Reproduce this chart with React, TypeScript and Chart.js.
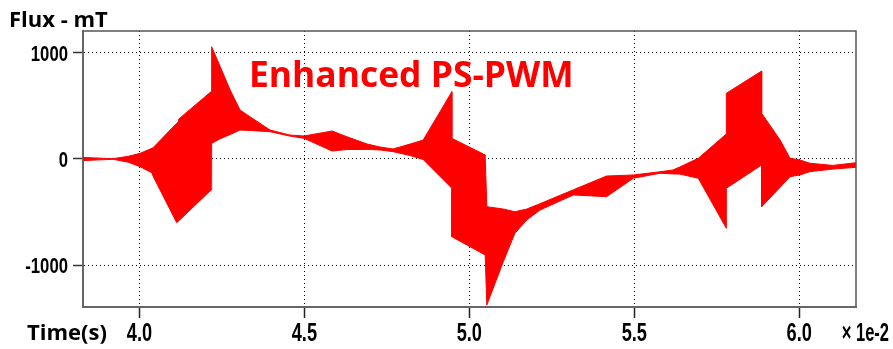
import React, { useEffect, useRef } from "react";
import { Chart, registerables } from "chart.js";

Chart.register(...registerables);

// Sample times, in units of 1e-2 s (repeated times mark switching edges)
const timeAxis = [
  3.829, 3.881, 3.92, 3.966, 4.002, 4.038, 4.042, 4.113, 4.118, 4.118,
  4.217, 4.219, 4.245, 4.275, 4.305, 4.335, 4.396, 4.456, 4.499, 4.584,
  4.629, 4.69, 4.729, 4.769, 4.82, 4.86, 4.912, 4.947, 4.947, 5.048,
  5.053, 5.103, 5.138, 5.174, 5.214, 5.315, 5.416, 5.497, 5.578, 5.617,
  5.638, 5.694, 5.779, 5.779, 5.886, 5.886, 5.942, 5.972, 6.002, 6.032,
  6.102, 6.172,
];

// Upper envelope of the ripple flux (mT)
const fluxUpper = [
  15, 8, 3, 25, 53, 100, 108, 335, 348, 372,
  632, 1054, 867, 648, 460, 397, 272, 225, 216, 263,
  209, 141, 113, 94, 140, 178, 448, 632, 194, 38,
  -448, -470, -495, -470, -420, -290, -160, -150, -120, -103,
  -75, 7, 235, 617, 826, 429, 178, 7, -9, -40,
  -60, -35,
];

// Lower envelope of the ripple flux (mT)
const fluxLower = [
  -15, -8, -3, -30, -72, -130, -166, -598, -585, -585,
  -291, 147, 190, 230, 272, 268, 256, 215, 194, 75,
  89, 90, 85, 69, 33, -5, -166, -275, -730, -901,
  -1371, -964, -698, -573, -480, -338, -354, -181, -134, -140,
  -142, -181, -651, -275, -56, -448, -266, -166, -150, -119,
  -95, -78,
];

const xTicks = [4.0, 4.5, 5.0, 5.5, 6.0];
const yTicks = [-1000, 0, 1000];

const chartTitle = "Enhanced PS-PWM";
const yAxisTitle = "Flux - mT";
const xAxisTitle = "Time(s)";
const xAxisMultiplier = "× 1e-2";

const NARROW_FONT = '"Liberation Sans", "DejaVu Sans", sans-serif';

// Draws text horizontally squeezed, giving a condensed look to the axis numerals
function drawNarrow(
  ctx: CanvasRenderingContext2D,
  text: string,
  x: number,
  y: number,
  size: number,
  squeeze: number,
  align: "left" | "right" | "center"
) {
  ctx.save();
  ctx.font = `bold ${size}px ${NARROW_FONT}`;
  ctx.textAlign = align;
  ctx.textBaseline = "alphabetic";
  ctx.translate(x, y);
  ctx.scale(squeeze, 1);
  ctx.fillText(text, 0, 0);
  ctx.restore();
}

const textPlugin = {
  id: "frameAndText",
  afterDatasetsDraw(chart: Chart) {
    const { ctx, chartArea } = chart;
    ctx.save();
    // top and right edges of the plot frame
    ctx.strokeStyle = "#555";
    ctx.lineWidth = 1.5;
    ctx.beginPath();
    ctx.moveTo(chartArea.left, chartArea.top);
    ctx.lineTo(chartArea.right, chartArea.top);
    ctx.lineTo(chartArea.right, chartArea.bottom);
    ctx.stroke();

    ctx.fillStyle = "#ff0000";
    ctx.font = 'bold 35.4px "Open Sans", sans-serif';
    ctx.textBaseline = "alphabetic";
    ctx.textAlign = "left";
    ctx.fillText(chartTitle, 249, 87);

    ctx.fillStyle = "#000";
    ctx.font = 'bold 22px "Open Sans", sans-serif';
    ctx.fillText(yAxisTitle, 9, 27);
    ctx.fillText(xAxisTitle, 27, 340);

    // axis numerals placed at the scales' own tick positions
    const xs: any = chart.scales.x;
    const ys: any = chart.scales.y;
    xs.ticks.forEach((t: any) => {
      const px = xs.getPixelForValue(t.value);
      drawNarrow(ctx, Number(t.value).toFixed(1), px, 340.5, 26, 0.7, "center");
    });
    ys.ticks.forEach((t: any) => {
      const py = ys.getPixelForValue(t.value);
      drawNarrow(ctx, String(t.value), 68, py + 8, 22, 0.76, "right");
    });
    drawNarrow(ctx, xAxisMultiplier, 889, 340.5, 25, 0.66, "right");
    ctx.restore();
  },
};

export default function App() {
  const canvasRef = useRef<HTMLCanvasElement | null>(null);

  useEffect(() => {
    const canvas = canvasRef.current;
    if (!canvas) return;
    const lower = timeAxis.map((t, i) => ({ x: t, y: fluxLower[i] }));
    const upper = timeAxis.map((t, i) => ({ x: t, y: fluxUpper[i] }));

    const chart = new Chart(canvas, {
      type: "line",
      data: {
        datasets: [
          {
            data: lower,
            borderColor: "#ff0000",
            borderWidth: 1,
            pointRadius: 0,
            fill: false,
            tension: 0,
          },
          {
            data: upper,
            borderColor: "#ff0000",
            backgroundColor: "#ff0000",
            borderWidth: 1,
            pointRadius: 0,
            fill: "-1",
            tension: 0,
          },
        ],
      },
      options: {
        animation: false,
        responsive: false,
        devicePixelRatio: 1,
        layout: { padding: { top: 31, right: 37, left: 0, bottom: 0 } },
        plugins: {
          legend: { display: false },
          tooltip: { enabled: false },
        },
        scales: {
          x: {
            type: "linear",
            min: 3.829,
            max: 6.172,
            afterBuildTicks: (s: any) => {
              s.ticks = xTicks.map((v) => ({ value: v }));
            },
            afterFit: (s: any) => {
              s.height = 42;
            },
            ticks: { display: false, autoSkip: false, maxRotation: 0 },
            grid: {
              color: "#000",
              lineWidth: 1,
              tickLength: 11,
              tickColor: "#222",
              tickWidth: 1.5,
              tickBorderDash: [],
            },
            border: { color: "#666", width: 2, dash: [1, 3] },
          },
          y: {
            min: -1390,
            max: 1202,
            afterBuildTicks: (s: any) => {
              s.ticks = yTicks.map((v) => ({ value: v }));
            },
            afterFit: (s: any) => {
              s.width = 83;
            },
            ticks: { display: false },
            grid: {
              color: "#000",
              lineWidth: 1,
              tickLength: 10,
              tickColor: "#333",
              tickWidth: 1.5,
              tickBorderDash: [],
            },
            border: { color: "#666", width: 2, dash: [1, 3] },
          },
        },
      },
      plugins: [textPlugin],
    });
    return () => chart.destroy();
  }, []);

  return (
    <div style={{ position: "absolute", left: 0, top: 0, width: 893, height: 349, background: "#fff" }}>
      <canvas ref={canvasRef} width={893} height={349} />
    </div>
  );
}
